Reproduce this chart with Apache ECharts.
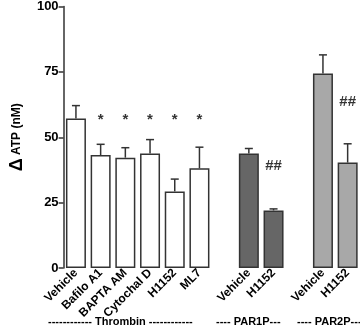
<!DOCTYPE html>
<html>
<head>
<meta charset="utf-8">
<script src="https://cdn.jsdelivr.net/npm/echarts@6/dist/echarts.min.js"></script>
<style>
  html, body { margin: 0; padding: 0; background: #fff; }
  #main { width: 360px; height: 327px; }
</style>
</head>
<body>
<div id="main"></div>
<script>
// categories (empty strings are the gaps between groups)
var categories = ['Vehicle', 'Bafilo A1', 'BAPTA AM', 'Cytochal D', 'H1152', 'ML7', '',
                  'Vehicle', 'H1152', '', 'Vehicle', 'H1152'];
var means  = [57.2, 43.2, 42.2, 43.8, 29.3, 38.1, null, 43.8, 22.0, null, 74.4, 40.3];
var errTop = [62.1, 47.3, 46.0, 49.1, 34.0, 46.2, null, 45.7, 22.6, null, 81.5, 47.5];
var group  = ['thr', 'thr', 'thr', 'thr', 'thr', 'thr', '', 'par1', 'par1', '', 'par2', 'par2'];
// significance marks: [category index, value, text]
var marks = [[1, 56.5, '*'], [2, 56.5, '*'], [3, 56.5, '*'], [4, 56.5, '*'], [5, 56.5, '*'],
             [8, 39, '##'], [11, 63.6, '##']];
var yTicks = [0, 25, 50, 75, 100];

var fills = { thr: '#ffffff', par1: '#666666', par2: '#a8a8a8' };
var font = 'Liberation Sans, Arial, sans-serif';

var barData = means.map(function (v, i) {
  if (v == null) return null;
  return { value: v, itemStyle: { color: fills[group[i]] } };
});

var errData = [];
means.forEach(function (v, i) {
  if (v != null) errData.push([i, v, errTop[i]]);
});

var chart = echarts.init(document.getElementById('main'));
chart.setOption({
  animation: false,
  backgroundColor: '#fff',
  grid: { left: 49, top: 4, bottom: 59, width: 312 },
  xAxis: {
    type: 'category',
    data: categories,
    axisLine: { show: false },
    axisTick: { show: false },
    axisLabel: {
      interval: 0, rotate: 45, margin: 3,
      color: '#000', fontWeight: 'bold', fontSize: 12, fontFamily: font
    }
  },
  yAxis: {
    type: 'value',
    min: 0, max: 100, interval: 25,
    name: '{d|Δ} {t|ATP (nM)}',
    nameLocation: 'middle',
    nameGap: 32,
    nameTextStyle: {
      color: '#000', fontWeight: 'bold', fontFamily: font,
      rich: {
        d: { fontSize: 18, fontFamily: font, color: '#000' },
        t: { fontSize: 12, fontWeight: 'bold', fontFamily: font, color: '#000' }
      }
    },
    axisLine: { show: true, lineStyle: { color: '#333', width: 1.5 } },
    axisTick: { show: true, length: 5, lineStyle: { color: '#333', width: 1.5 } },
    axisLabel: {
      margin: 5, color: '#000', fontWeight: 'bold', fontSize: 13, fontFamily: font,
      formatter: function (v) { return yTicks.indexOf(v) >= 0 ? String(v) : ''; }
    },
    splitLine: { show: false }
  },
  series: [
    {
      type: 'bar',
      data: barData,
      barWidth: 20,
      itemStyle: { borderColor: '#333', borderWidth: 1.5 }
    },
    {
      type: 'custom',
      data: errData,
      z: 1,
      renderItem: function (params, api) {
        var base = api.coord([api.value(0), api.value(1)]);
        var top = api.coord([api.value(0), api.value(2)]);
        var style = { stroke: '#333', lineWidth: 1.5 };
        return {
          type: 'group',
          children: [
            { type: 'line', shape: { x1: base[0], y1: base[1], x2: top[0], y2: top[1] }, style: style },
            { type: 'line', shape: { x1: top[0] - 4, y1: top[1], x2: top[0] + 4, y2: top[1] }, style: style }
          ]
        };
      }
    },
    {
      type: 'scatter',
      symbolSize: 0,
      data: marks.map(function (m) { return { value: [m[0], m[1]], name: m[2] }; }),
      label: {
        show: true, position: 'inside', formatter: '{b}',
        color: '#000', fontWeight: 'bold', fontSize: 15, fontFamily: font
      }
    }
  ],
  graphic: [
    { type: 'text', left: 48, top: 316,
      style: { text: '------------ Thrombin ------------', fill: '#000', font: 'bold 11px ' + font } },
    { type: 'text', left: 216, top: 316,
      style: { text: '---- PAR1P---', fill: '#000', font: 'bold 11px ' + font } },
    { type: 'text', left: 297, top: 316,
      style: { text: '---- PAR2P---', fill: '#000', font: 'bold 11px ' + font } }
  ]
});
</script>
</body>
</html>
